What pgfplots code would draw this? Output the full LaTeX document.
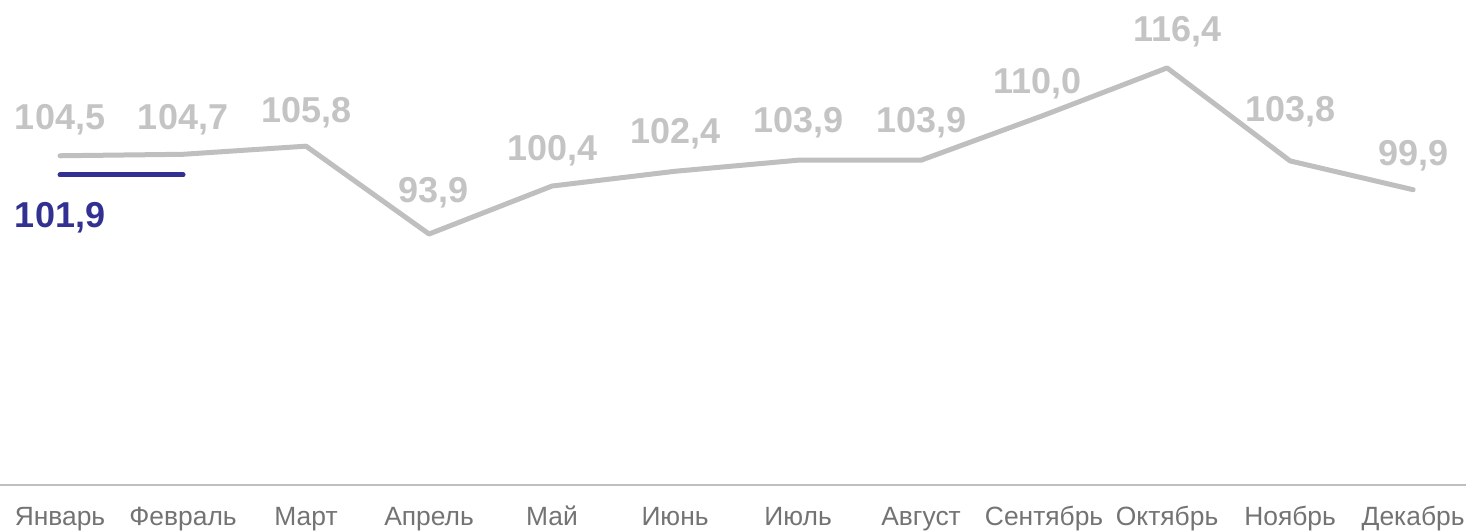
\documentclass[border=0pt]{standalone}
\usepackage{fontspec}
\setmainfont{Liberation Sans}
\usepackage{pgfplots}
\pgfplotsset{compat=1.18}
\definecolor{lineg}{RGB}{191,191,191}
\definecolor{labg}{RGB}{196,196,196}
\definecolor{tickg}{RGB}{115,115,115}
\definecolor{blu}{RGB}{50,48,145}
\begin{document}
\begin{tikzpicture}
\begin{axis}[
  scale only axis,
  width=733pt, height=242.5pt,
  xmin=-0.488, xmax=11.43,
  ymin=59.9, ymax=125.6,
  axis x line*=bottom,
  axis y line=none,
  x axis line style={draw=lineg, line width=1pt, -},
  xtick={0,...,11},
  major tick length=0pt,
  xticklabels={Январь,Февраль,Март,Апрель,Май,Июнь,Июль,Август,Сентябрь,Октябрь,Ноябрь,Декабрь},
  xticklabel style={font=\fontsize{13.2}{15}\selectfont, text=tickg, anchor=base, yshift=-20.3pt, inner sep=0pt},
  clip=false,
]
\addplot[lineg, line width=2.5pt, line cap=round, line join=round,
  nodes near coords, point meta=explicit symbolic,
  visualization depends on={\thisrow{dx} \as \dx},
  visualization depends on={\thisrow{dy} \as \dy},
  every node near coord/.style={anchor=base, xshift=\dx pt, yshift=\dy pt, text=labg, font=\fontsize{18}{20}\selectfont\bfseries, inner sep=0pt}]
  table[meta=lab] {
x y lab dx dy
0 104.5 {104,5} 0 12.9
1 104.7 {104,7} 0 12.6
2 105.8 {105,8} 0 12
3 93.9 {93,9} 2 16
4 100.4 {100,4} 0 13
5 102.4 {102,4} 0 14
6 103.9 {103,9} 0 14
7 103.9 {103,9} 0 14
8 110.0 {110,0} -3.5 11
9 116.4 {116,4} 5 13
10 103.8 {103,8} 0 19.5
11 99.9 {99,9} 0 12.3
};
\addplot[blu, line width=2.5pt, line cap=round] coordinates {(0,101.9) (1,101.9)};
\addplot[draw=none, nodes near coords, point meta=explicit symbolic,
  every node near coord/.style={anchor=base, yshift=-26.5pt, text=blu, font=\fontsize{18}{20}\selectfont\bfseries, inner sep=0pt}]
  table[meta=lab] {
x y lab
0 101.9 {101,9}
};
\end{axis}
\pgfresetboundingbox
\path (0,-23pt) rectangle (733pt,242.5pt);
\end{tikzpicture}
\end{document}
